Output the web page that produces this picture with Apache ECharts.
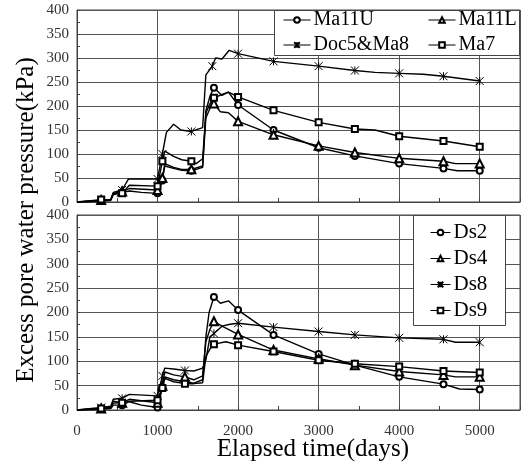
<!DOCTYPE html>
<html>
<head>
<meta charset="utf-8">
<script src="https://cdn.jsdelivr.net/npm/echarts@6/dist/echarts.min.js"></script>
<style>
  html, body { margin: 0; padding: 0; background: #fff; }
  #chart { width: 526px; height: 470px; }
</style>
</head>
<body>
<div id="chart"></div>
<script>
// Upper panel: piezometers Ma11U, Ma11L, Doc5&Ma8, Ma7 — [elapsed day, excess pore pressure kPa]
const ma11U = [[0,0],[300,2],[420,3],[450,15],[560,20],[650,23],[800,20],[1000,18],[1060,45],[1090,75],[1200,70],[1300,66],[1420,65],[1560,72],[1600,190],[1650,220],[1700,238],[1800,222],[1880,229],[2000,202],[2440,150],[3000,113],[3450,96],[4000,80],[4550,70],[4720,65],[5000,65]];
const ma11L = [[0,0],[300,4],[420,5],[450,18],[560,22],[650,28],[1000,25],[1060,50],[1090,80],[1200,72],[1300,68],[1420,68],[1560,75],[1600,175],[1650,195],[1700,205],[1780,188],[1880,186],[2000,168],[2440,140],[3000,117],[3450,103],[4000,91],[4550,85],[4700,80],[5000,80]];
const doc5Ma8 = [[0,0],[300,2],[420,5],[450,20],[560,25],[640,48],[1000,48],[1060,100],[1110,145],[1200,162],[1290,150],[1420,147],[1560,155],[1600,265],[1680,283],[1720,300],[1800,298],[1890,316],[2000,309],[2440,293],[3000,283],[3450,274],[3700,270],[4000,268],[4300,266],[4550,262],[5000,252]];
const ma7 = [[0,0],[300,5],[420,5],[450,18],[560,18],[650,35],[1000,33],[1060,85],[1090,106],[1200,95],[1300,88],[1420,85],[1480,80],[1560,90],[1600,185],[1650,205],[1700,217],[1800,224],[1880,229],[2000,219],[2440,191],[3000,166],[3450,152],[3700,150],[4000,137],[4550,127],[5000,115]];

// Lower panel: piezometers Ds2, Ds4, Ds8, Ds9
const ds2 = [[0,0],[300,2],[420,3],[450,10],[560,10],[650,17],[800,10],[1000,5],[1060,45],[1090,68],[1200,62],[1340,58],[1450,55],[1560,62],[1600,150],[1640,200],[1700,232],[1780,219],[1880,224],[2000,205],[2440,154],[3000,115],[3450,92],[4000,68],[4550,53],[4750,43],[5000,42]];
const ds4 = [[0,0],[300,3],[420,5],[450,18],[560,15],[650,22],[1000,15],[1060,50],[1090,78],[1200,72],[1340,68],[1450,62],[1560,70],[1600,140],[1650,165],[1700,182],[1800,172],[2000,155],[2440,123],[3000,105],[3450,92],[4000,79],[4550,72],[4700,68],[5000,68]];
const ds8 = [[0,0],[300,5],[420,8],[450,22],[560,24],[650,32],[1000,29],[1060,70],[1090,86],[1200,84],[1340,81],[1450,80],[1560,86],[1600,103],[1650,150],[1700,157],[1800,172],[1900,176],[2000,178],[2440,170],[3000,161],[3450,154],[4000,148],[4550,145],[4700,139],[5000,139]];
const ds9 = [[0,0],[300,3],[420,5],[450,14],[560,15],[650,18],[1000,20],[1060,45],[1090,65],[1200,58],[1340,54],[1450,54],[1560,56],[1600,110],[1650,125],[1700,135],[1850,140],[2000,133],[2440,120],[3000,102],[3450,95],[4000,89],[4550,80],[5000,77]];

// Days on which a marker is drawn
const markDaysTop = [300,560,1000,1060,1420,1680,1700,2000,2440,3000,3450,4000,4550,5000];
const markDaysBottom = [300,560,1000,1060,1340,1700,2000,2440,3000,3450,4000,4550,5000];

const xTicks = [0,1000,2000,3000,4000,5000];
const yTicks = [0,50,100,150,200,250,300,350,400];

const SERIF = '"Liberation Serif", "DejaVu Serif", serif';
const STAR = 'path://M0,0L10,10M10,0L0,10M5,0L5,10';
const SYMBOL_SIZE = { emptyCircle: 6, emptyRect: 6, emptyTriangle: 8 };

function withMarks(points, marks) {
  return points.map(p => marks.includes(p[0]) ? { value: p } : { value: p, symbol: 'none' });
}

function curve(name, points, marks, symbol, panel) {
  const isStar = symbol === STAR;
  return {
    name: name,
    type: 'line',
    xAxisIndex: panel,
    yAxisIndex: panel,
    data: withMarks(points, marks),
    symbol: symbol,
    symbolSize: isStar ? 8 : SYMBOL_SIZE[symbol],
    showSymbol: true,
    lineStyle: { color: '#000', width: 1.4 },
    itemStyle: isStar
      ? { color: '#000', borderColor: '#000', borderWidth: 1 }
      : { color: '#000', borderWidth: 0.9 },
    emphasis: { disabled: true },
    z: 2
  };
}

function xAxisFor(panel, showLabels) {
  return {
    gridIndex: panel, type: 'value',
    min: xTicks[0], max: 5500, interval: 1000,
    axisLine: { show: true, lineStyle: { color: '#444', width: 1 } },
    axisTick: { show: true, inside: true, length: 4, lineStyle: { color: '#444' } },
    minorTick: { show: true, splitNumber: 2, length: 4, lineStyle: { color: '#444' } },
    splitLine: { show: true, lineStyle: { color: '#555', width: 1 } },
    axisLabel: {
      show: showLabels, fontFamily: SERIF, fontSize: 15, color: '#333', margin: 14,
      formatter: v => (xTicks.includes(v) ? String(v) : '')
    }
  };
}

function yAxisFor(panel) {
  return {
    gridIndex: panel, type: 'value',
    min: yTicks[0], max: yTicks[yTicks.length - 1], interval: 50,
    axisLine: { show: true, lineStyle: { color: '#444', width: 1 } },
    axisTick: { show: true, inside: true, length: 3, lineStyle: { color: '#444' } },
    minorTick: { show: true, splitNumber: 2, length: 3, lineStyle: { color: '#444' } },
    splitLine: { show: true, lineStyle: { color: '#555', width: 1 } },
    axisLabel: { fontFamily: SERIF, fontSize: 15, color: '#333', margin: 8 }
  };
}

const legendText = { fontFamily: SERIF, fontSize: 20, color: '#000', lineHeight: 20, padding: [0, 0, 0, -2] };
const legendCommon = {
  orient: 'vertical', padding: 0, itemHeight: 7, selectedMode: false,
  lineStyle: { width: 1, color: '#000' }
};

const chart = echarts.init(document.getElementById('chart'), null, { renderer: 'canvas' });
chart.setOption({
  animation: false,
  backgroundColor: '#fff',
  grid: [
    { left: 77, top: 10, width: 443, height: 192, show: true, borderColor: '#444', borderWidth: 1, backgroundColor: 'transparent' },
    { left: 77, top: 215, width: 443, height: 195, show: true, borderColor: '#444', borderWidth: 1, backgroundColor: 'transparent' }
  ],
  xAxis: [xAxisFor(0, false), xAxisFor(1, true)],
  yAxis: [yAxisFor(0), yAxisFor(1)],
  legend: [
    Object.assign({}, legendCommon, { data: ['Ma11U', 'Doc5&Ma8'], left: 283, top: 10, itemGap: 5,
      itemWidth: 27, textStyle: legendText }),
    Object.assign({}, legendCommon, { data: ['Ma11L', 'Ma7'], left: 428, top: 10, itemGap: 5,
      itemWidth: 27, textStyle: legendText }),
    Object.assign({}, legendCommon, { data: ['Ds2', 'Ds4', 'Ds8', 'Ds9'], left: 430, top: 222, itemGap: 5,
      itemWidth: 20, textStyle: Object.assign({}, legendText, { fontSize: 21, lineHeight: 21 }) })
  ],
  graphic: [
    { type: 'rect', z: 3, shape: { x: 274.5, y: 10.5, width: 245, height: 45 },
      style: { fill: '#fff', stroke: '#444', lineWidth: 1 } },
    { type: 'rect', z: 3, shape: { x: 413.5, y: 215.5, width: 92, height: 110 },
      style: { fill: '#fff', stroke: '#444', lineWidth: 1 } },
    { type: 'text', x: 26, y: 220, rotation: Math.PI / 2,
      style: { text: 'Excess pore water pressure(kPa)', font: '25px ' + SERIF, fill: '#000',
               align: 'center', verticalAlign: 'middle' } },
    { type: 'text', x: 313, y: 449,
      style: { text: 'Elapsed time(days)', font: '25px ' + SERIF, fill: '#000',
               align: 'center', verticalAlign: 'middle' } }
  ],
  series: [
    curve('Ma11U', ma11U, markDaysTop, 'emptyCircle', 0),
    curve('Ma11L', ma11L, markDaysTop, 'emptyTriangle', 0),
    curve('Doc5&Ma8', doc5Ma8, markDaysTop, STAR, 0),
    curve('Ma7', ma7, markDaysTop, 'emptyRect', 0),
    curve('Ds2', ds2, markDaysBottom, 'emptyCircle', 1),
    curve('Ds4', ds4, markDaysBottom, 'emptyTriangle', 1),
    curve('Ds8', ds8, markDaysBottom, STAR, 1),
    curve('Ds9', ds9, markDaysBottom, 'emptyRect', 1)
  ]
});
</script>
</body>
</html>
